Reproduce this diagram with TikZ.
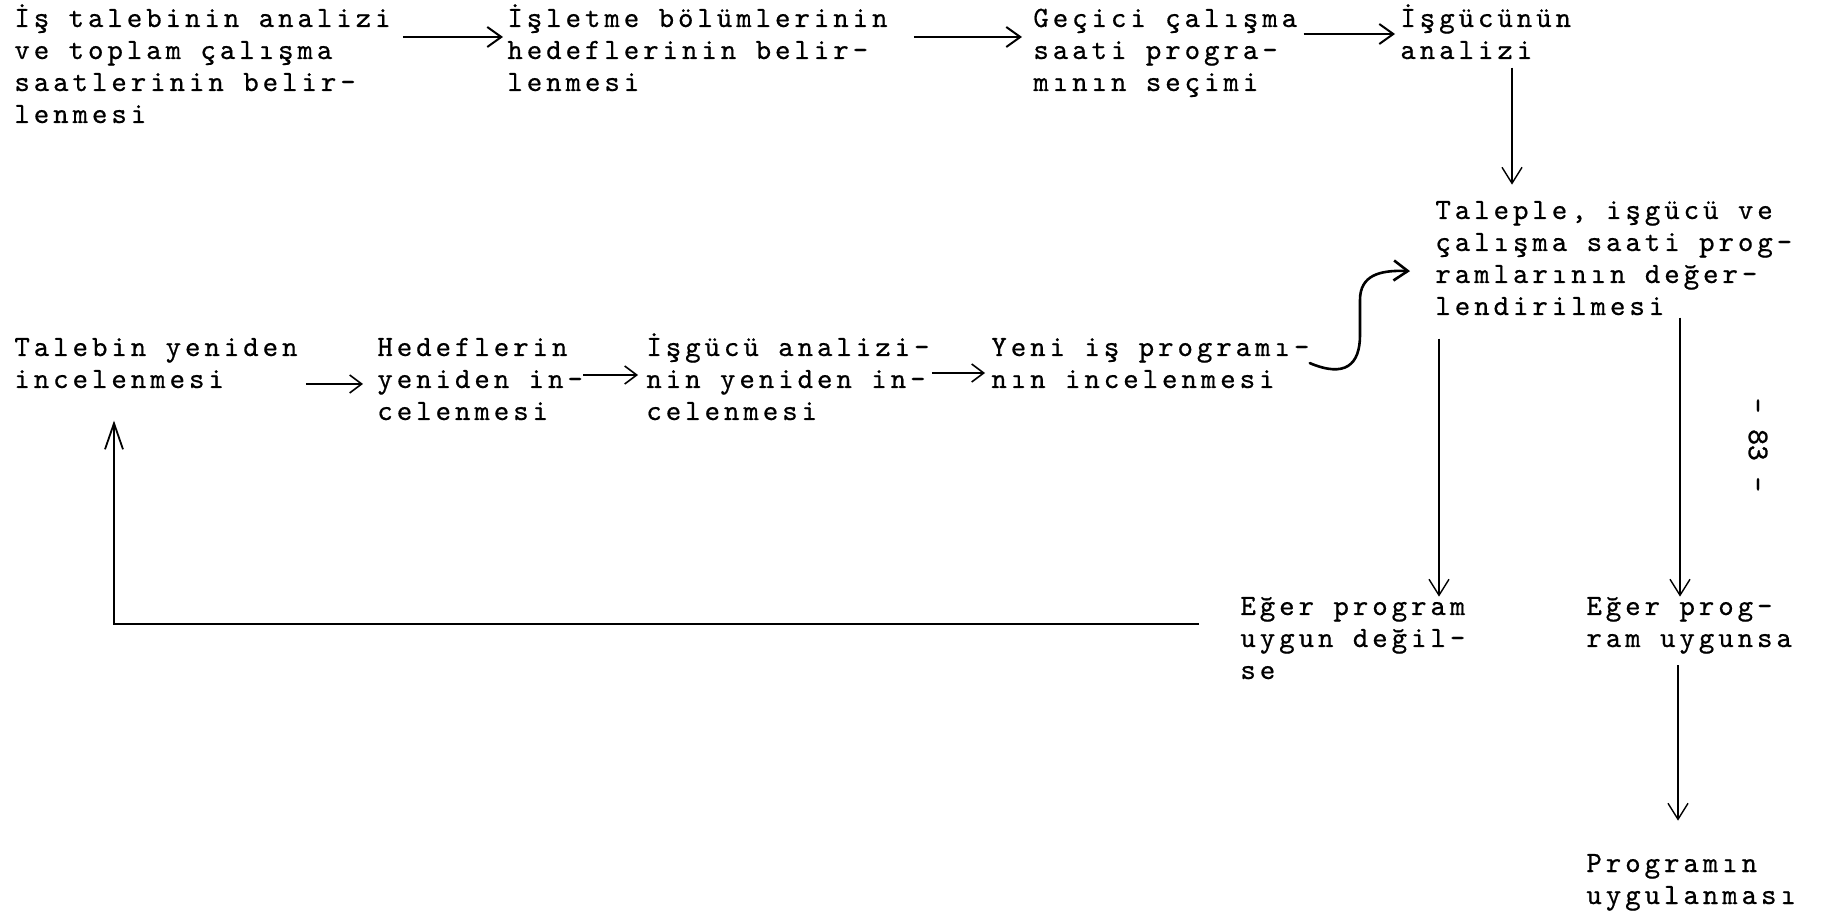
\documentclass[tikz,border=0pt]{standalone}
\usepackage{fontspec}
\setmonofont{lmmono10-regular.otf}[LetterSpace=13.5,FakeBold=0.6]
\newfontfamily\pgnumfont{lmmono10-regular.otf}[FakeBold=1]
\usetikzlibrary{arrows.meta,calc}
\begin{document}
\begin{tikzpicture}[x=0.5pt,y=-0.5pt,
  txt/.style={anchor=base west, align=left, inner sep=0pt,
    font=\ttfamily\fontsize{14.7}{16}\selectfont},
  arr/.style={-{Straight Barb[length=8pt,width=10pt]}, line width=0.7pt},
  arrS/.style={-{Straight Barb[length=6pt,width=9pt]}, line width=0.8pt},
  arrT/.style={-{Straight Barb[length=7pt,width=10pt]}, line width=1pt},
  arrC/.style={-{Straight Barb[length=7pt,width=10pt]}, line width=1.3pt, line cap=round},
  arrB/.style={-{Straight Barb[length=13pt,width=9pt]}, line width=0.9pt}]
\useasboundingbox (0,0) rectangle (1826,913);
% texts (anchor = baseline of the last line)
\node[txt] (A) at (14,123) {İş talebinin analizi\\ve toplam çalışma\\saatlerinin belir-\\lenmesi};
\node[txt] (B) at (507,91) {İşletme bölümlerinin\\hedeflerinin belir-\\lenmesi};
\node[txt] (C) at (1033,91) {Geçici çalışma\\saati progra-\\mının seçimi};
\node[txt] (D) at (1400,59) {İşgücünün\\analizi};
\node[txt] (E) at (1435,315) {Taleple, işgücü ve\\çalışma saati prog-\\ramlarının değer-\\lendirilmesi};
\node[txt] (F) at (14,388) {Talebin yeniden\\incelenmesi};
\node[txt] (G) at (377,420) {Hedeflerin\\yeniden in-\\celenmesi};
\node[txt] (H) at (646,420) {İşgücü analizi-\\nin yeniden in-\\celenmesi};
\node[txt] (I) at (991,388) {Yeni iş programı-\\nın incelenmesi};
\node[txt] (J) at (1240,679) {Eğer program\\uygun değil-\\se};
\node[txt] (K) at (1586,647) {Eğer prog-\\ram uygunsa};
\node[txt] (L) at (1586,904) {Programın\\uygulanması};
\node[rotate=-90, font=\pgnumfont\fontsize{15}{16}\selectfont, inner sep=0pt] (P) at (1758,445) {- 83 -};
% connectors
\draw[arrT] ($(A.east |- 0,37)+(12,0)$) -- ($(B.west |- 0,37)+(-4,0)$);
\draw[arrT] ($(B.east |- 0,37)+(26,0)$) -- ($(C.west |- 0,37)+(-11,0)$);
\draw[arrT] ($(C.east |- 0,34)+(6,0)$) -- ($(D.west |- 0,34)+(-5,0)$);
\draw[arr] ($(D.south -| 1512,0)+(0,8)$) -- ($(E.north -| 1512,0)+(0,-16)$);
\draw[arrC] (I.east) .. controls (1345,378) and (1360,365) .. (1360,335)
  -- (1360,300) .. controls (1360,275) and (1380,270) .. ($(E.west)+(-25,13)$);
\draw[arr] ($(E.south west)+(4,23)$) -- ($(J.north -| E.south west)+(4,0)$);
\draw[arr] ($(E.south -| K.north west)+(94,2)$) -- ($(K.north west)+(94,0)$);
\draw[arr] ($(K.south west)+(92,11)$) -- ($(L.north west)+(92,-33)$);
\draw[arrB] ($(J.west)+(-41,-14)$) -| ($(F.south west)+(100,32)$);
\draw[arrS] ($(F.east |- 0,384)+(8,0)$) -- ($(G.west |- 0,384)+(-14,0)$);
\draw[arrS] (G.east |- 0,375) -- ($(H.west |- 0,375)+(-8,0)$);
\draw[arrS] ($(H.east |- 0,373)+(2,0)$) -- ($(I.west |- 0,373)+(-6,0)$);
\end{tikzpicture}
\end{document}
